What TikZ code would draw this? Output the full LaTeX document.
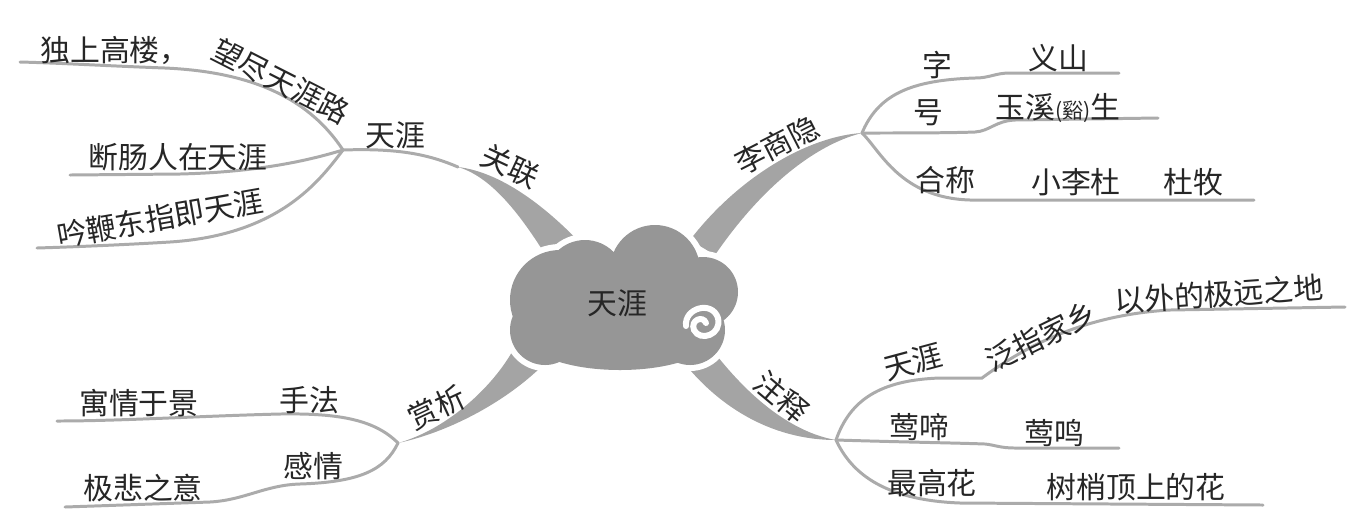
\documentclass[tikz,border=0pt]{standalone}
\usepackage{fontspec}
\newfontfamily\cjk{Noto Sans CJK SC}
\usetikzlibrary{calc}

\definecolor{twiggray}{HTML}{ABABAB}
\definecolor{bandgray}{HTML}{A4A4A4}
\definecolor{cloudgray}{HTML}{969696}

\tikzset{
  leaf/.style={font=\cjk\fontsize{17}{20}\selectfont, text=black!85, inner sep=0pt},
  twig/.style={draw=twiggray, line width=1.7pt, line cap=round},
  band/.style={fill=bandgray},
}

\begin{document}
\begin{tikzpicture}[x=0.02cm, y=-0.02cm]
  \useasboundingbox (0,0) rectangle (1363,529);

  % Hubs where the twigs split
  \coordinate (guanlian) at (343,150);
  \coordinate (lishangyin) at (862,133);
  \coordinate (shangxi) at (398,443);
  \coordinate (zhushi) at (836,440);
  \coordinate (guanlianStart) at (458,167);

  % Thick bands from the cloud to the hubs
  \fill[band] (guanlianStart) .. controls (500,172) and (545,205) .. (585,248) -- (550,262) .. controls (525,222) and (495,178) .. (guanlianStart);
  \fill[band] (lishangyin) .. controls (810,136) and (740,175) .. (690,240) -- (715,255) .. controls (770,175) and (825,142) .. (lishangyin);
  \fill[band] (shangxi) .. controls (450,432) and (510,400) .. (548,360) -- (512,352) .. controls (490,390) and (445,430) .. (shangxi);
  \fill[band] (zhushi) .. controls (790,432) and (745,395) .. (705,340) -- (678,355) .. controls (715,405) and (770,440) .. (zhushi);

  % Cloud with a white rim
  \foreach \x/\y/\r in {560/300/50, 585/280/40, 655/270/45, 703/292/35, 620/320/50, 690/330/35, 545/330/35}
    \fill[white] (\x,\y) circle ({\r+6});
  \fill[white] (620,335) ellipse (101 and 41);
  \foreach \x/\y/\r in {560/300/50, 585/280/40, 655/270/45, 703/292/35, 620/320/50, 690/330/35, 545/330/35}
    \fill[cloudgray] (\x,\y) circle (\r);
  \fill[cloudgray] (620,335) ellipse (95 and 35);
  \draw[white, line width=3.4pt, line cap=round] (686,326) .. controls (684,308) and (712,300) .. (718,318) .. controls (722,335) and (700,342) .. (694,330) .. controls (690,320) and (703,315) .. (706,323);
  \node[leaf] (center) at (617,303) {天涯};

  % Twig ends
  \coordinate (a1) at (20,62);
  \coordinate (a2) at (70,175);
  \coordinate (a3) at (37,248);
  \coordinate (b1) at (1119,73);
  \coordinate (b2) at (1158,118);
  \coordinate (b3) at (1254,200);
  \coordinate (c1) at (57,421);
  \coordinate (c2) at (65,507);
  \coordinate (d1) at (1345,307);
  \coordinate (d2) at (1119,448);
  \coordinate (d3) at (1263,505);

  % Twigs
  \draw[twig] (guanlian) .. controls (400,148) and (430,155) .. (guanlianStart);
  \draw[twig] (guanlian) .. controls (310,100) and (255,72) .. (165,68) .. controls (110,66) and (60,63) .. (a1);
  \draw[twig] (guanlian) .. controls (310,160) and (260,172) .. (180,174) -- (a2);
  \draw[twig] (guanlian) .. controls (320,180) and (280,235) .. (170,242) .. controls (120,245) and (70,247) .. (a3);
  \draw[twig] (lishangyin) .. controls (878,95) and (910,80) .. (975,78) .. controls (990,78) and (995,73) .. (1010,73) -- (b1);
  \draw[twig] (lishangyin) .. controls (900,133) and (950,133) .. (975,132) .. controls (990,131) and (995,121) .. (1015,120) -- (b2);
  \draw[twig] (lishangyin) .. controls (880,150) and (900,198) .. (970,200) -- (b3);
  \draw[twig] (shangxi) .. controls (375,420) and (340,413) .. (280,414) .. controls (200,416) and (120,421) .. (c1);
  \draw[twig] (shangxi) .. controls (385,470) and (360,482) .. (300,484) .. controls (265,485) and (245,500) .. (210,502) -- (c2);
  \draw[twig] (zhushi) .. controls (850,400) and (880,380) .. (940,378) -- (982,378) .. controls (1020,350) and (1080,315) .. (1170,310) -- (d1);
  \draw[twig] (zhushi) .. controls (900,442) and (960,443) .. (985,444) .. controls (995,445) and (1000,448) .. (1015,448) -- (d2);
  \draw[twig] (zhushi) .. controls (850,470) and (880,500) .. (960,503) -- (d3);

  % Branch labels
  \node[leaf, rotate=-25] (guanlianLabel) at (510,166) {关联};
  \node[leaf, rotate=27] (lishangyinLabel) at (777,145) {李商隐};
  \node[leaf, rotate=25] (shangxiLabel) at (437,407) {赏析};
  \node[leaf, rotate=-40] (zhushiLabel) at (782,397) {注释};

  % Leaf texts
  \foreach \n/\x/\y/\t in {a1text/115/50/独上高楼，, tianya1/395/135/天涯, a2text/178/157/断肠人在天涯,
      zi/937/65/字, yishan/1058/58/义山, hao/928/113/号, hechen/945/180/合称,
      xiaolidu/1076/182/小李杜, dumu/1193/182/杜牧,
      yuqing/139/403/寓情于景, shoufa/309/400/手法, beiyi/143/488/极悲之意, ganqing/313/466/感情,
      yingti/919/427/莺啼, yingming/1054/433/莺鸣, zuigao/932/483/最高花, shushao/1136/487/树梢顶上的花}
    \node[leaf] (\n) at (\x,\y) {\t};
  \node[leaf] (yuxi) at (1058,108) {玉溪{\fontsize{12}{12}\selectfont(谿)}生};
  \node[leaf, rotate=-27] (wangjin) at (281,81) {望尽天涯路};
  \node[leaf, rotate=10] (a3text) at (160,218) {吟鞭东指即天涯};
  \node[leaf, rotate=15] (tianya2) at (913,362) {天涯};
  \node[leaf, rotate=26] (fanzhi) at (1041,336) {泛指家乡};
  \node[leaf, rotate=4] (yuanzhidi) at (1219,294) {以外的极远之地};
\end{tikzpicture}
\end{document}
